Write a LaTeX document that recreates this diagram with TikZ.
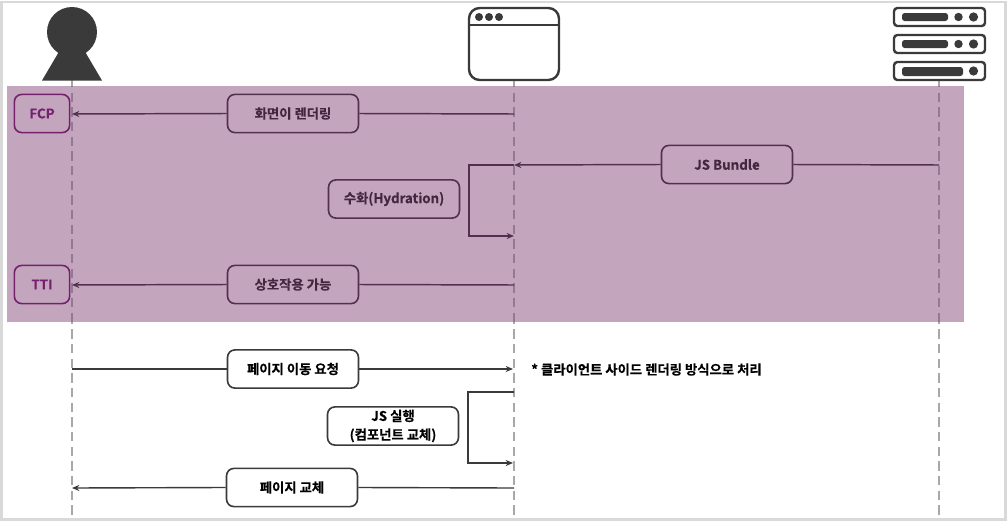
\documentclass[tikz,border=0pt]{standalone}
\usepackage{fontspec}
\setmainfont{Noto Sans CJK KR}[BoldFont={Noto Sans CJK KR Bold},BoldFeatures={FakeBold=0.35}]
\usetikzlibrary{arrows.meta}
\definecolor{panelc}{HTML}{C3A5BE}
\definecolor{framec}{HTML}{D9D9D9}
\definecolor{darkc}{HTML}{3A3A3A}
\definecolor{inkc}{HTML}{52304F}
\definecolor{accentc}{HTML}{74206C}
\definecolor{lifec}{HTML}{A8A8A8}
\definecolor{lifeinc}{HTML}{927A92}
\newcommand{\lowered}[1]{\raisebox{-0.7pt}{#1}}
\tikzset{
  x=0.75pt,y=-0.75pt,
  labelbox/.style={draw=#1,rounded corners=5.5pt,line width=1.2pt,minimum width=98.2pt,minimum height=28.6pt,inner sep=0pt,align=center,font=\bfseries\fontsize{10}{14}\selectfont},
  inbox/.style={labelbox=inkc,text=inkc!80!black},
  outbox/.style={labelbox=darkc,fill=white,text=black},
  markbox/.style={labelbox=accentc,text=accentc,minimum width=41.5pt},
  link/.style={draw=inkc,line width=1.1pt},
  linko/.style={draw=darkc,line width=1.05pt},
  tip/.style={-{Stealth[length=5.5pt,width=4.5pt]}},
  life/.style={dash pattern=on 7pt off 4pt,line width=1pt},
  icon/.style={draw=darkc,line width=1.8pt},
}
\begin{document}
\begin{tikzpicture}
\useasboundingbox (0,0) rectangle (1007,521);
\fill[white] (0,0) rectangle (1007,521);
\draw[framec,line width=2pt] (1.5,2) rectangle (1005.5,519.5);
% lifeline anchors
\coordinate (uTop) at (72,80);
\coordinate (bTop) at (514,80);
\coordinate (sTop) at (939,80);
\coordinate (uBot) at (72,519);
\coordinate (bBot) at (514,519);
\coordinate (sBot) at (939,519);
\draw[lifec,life] (uTop) -- (uBot);
\draw[lifec,life] (bTop) -- (bBot);
\draw[lifec,life] (sTop) -- (sBot);
% panel
\fill[panelc] (7,86) rectangle (964,322);
\draw[lifeinc,life,dash phase=6pt] (72,86) -- (72,322);
\draw[lifeinc,life,dash phase=6pt] (514,86) -- (514,322);
\draw[lifeinc,life,dash phase=6pt] (939,86) -- (939,322);
% user icon
\fill[darkc] (72,32) circle[radius=25];
\fill[darkc] (60,50) -- (84,50) -- (102,80.5) -- (42,80.5) -- cycle;
% browser icon
\draw[icon,rounded corners=8pt] (469,8) rectangle (559,80);
\draw[icon] (469,25) -- (559,25);
\foreach \dx in {479,489,499}{\fill[darkc] (\dx,17) circle[radius=4];}
% server icon
\foreach \ty in {8,35,62}{\draw[icon,rounded corners=2.5pt] (894,\ty) rectangle (985,\ty+18);}
\foreach \ty in {17,44}{
  \fill[darkc,rounded corners=2pt] (902,\ty-4) rectangle (948,\ty+4);
  \fill[darkc] (958.5,\ty) circle[radius=4.2];
  \fill[darkc] (973.5,\ty) circle[radius=4.6];
}
\fill[darkc,rounded corners=2pt] (902,67) rectangle (963,76);
\fill[darkc] (973.5,71) circle[radius=4.6];
% nodes
\node[markbox] (fcp) at (42,113.5) {\lowered{FCP}};
\node[markbox] (tti) at (42,284.5) {\lowered{TTI}};
\node[inbox] (render) at (293,113.5) {\lowered{화면이 렌더링}};
\node[inbox] (bundle) at (727,164.5) {\lowered{JS Bundle}};
\node[inbox] (hydr) at (394,199) {\lowered{수화(Hydration)}};
\node[inbox] (inter) at (293,284.5) {\lowered{상호작용 가능}};
\node[outbox] (nav) at (293,369) {\lowered{페이지 이동 요청}};
\node[outbox] (run) at (393,426) {JS 실행\\(컴포넌트 교체)};
\node[outbox] (swap) at (292,487.5) {\lowered{페이지 교체}};
\node[anchor=west,inner sep=0pt,font=\bfseries\fontsize{10}{12}\selectfont] (note) at (531,369.5) {* 클라이언트 사이드 렌더링 방식으로 처리};
% connector anchors on lifelines
\coordinate (b1) at (514,114);
\coordinate (u1) at (72,114);
\coordinate (s2) at (939,165);
\coordinate (b2) at (514,165);
\coordinate (l2a) at (469,165);
\coordinate (l2b) at (469,236);
\coordinate (b2e) at (514,236);
\coordinate (b3) at (514,285);
\coordinate (u3) at (72,285);
\coordinate (u4) at (72,369);
\coordinate (b4) at (513,369);
\coordinate (b5) at (514,392);
\coordinate (l5a) at (468,392);
\coordinate (l5b) at (468,463);
\coordinate (b5e) at (513,463);
\coordinate (b6) at (514,488);
\coordinate (u6) at (72,488);
% connectors
\draw[link] (b1) -- (render.east);
\draw[link,tip] (render.west) -- (u1);
\draw[link] (s2) -- (bundle.east);
\draw[link,tip] (bundle.west) -- (b2);
\draw[link,tip] (b2) -- (l2a) -- (l2b) -- (b2e);
\draw[link] (b3) -- (inter.east);
\draw[link,tip] (inter.west) -- (u3);
\draw[linko] (u4) -- (nav.west);
\draw[linko,tip] (nav.east) -- (b4);
\draw[linko,tip] (b5) -- (l5a) -- (l5b) -- (b5e);
\draw[linko] (b6) -- (swap.east);
\draw[linko,tip] (swap.west) -- (u6);
\end{tikzpicture}
\end{document}
